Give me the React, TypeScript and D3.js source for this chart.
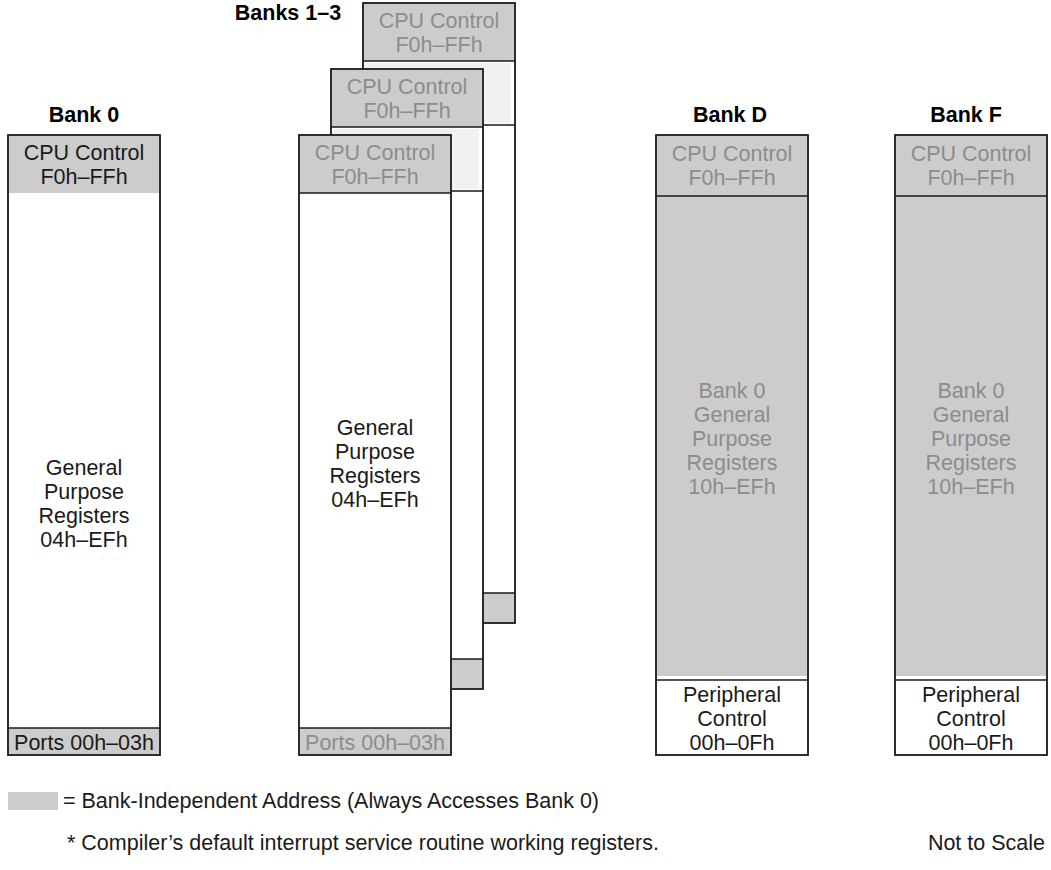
import React from "react";
import * as d3 from "d3";

// ---- data ----
const bankTitles = ["Bank 0", "Banks 1–3", "Bank D", "Bank F"];
const cpuLines = ["CPU Control", "F0h–FFh"];
const gprLines0 = ["General", "Purpose", "Registers", "04h–EFh"];
const gprLinesDF = ["Bank 0", "General", "Purpose", "Registers", "10h–EFh"];
const portsLabel = "Ports 00h–03h";
const periphLines = ["Peripheral", "Control", "00h–0Fh"];
const legendText = "= Bank-Independent Address (Always Accesses Bank 0)";
const footnoteText = "* Compiler’s default interrupt service routine working registers.";
const scaleNote = "Not to Scale";
const stackLayers = [2, 1, 0]; // banks 1–3 drawn back to front

// ---- style ----
const FONT = "'Liberation Sans', Arial, Helvetica, sans-serif";
const GRAY = "#cccccc";
const LIGHT = "#f1f1f1";
const DIM = "#8c8c8c";
const INK = "#1a1a1a";
const FS = 21.5;
const LH = 24;
const SW = 1.4;

const W = 152;
const TOP = 135;
const BOT = 755;
const HEADER = 58;
const PORTS = 27;
const PERIPH = 75;

// horizontal placement scale of the four columns
const colX = d3.scaleOrdinal<string, number>().domain(bankTitles).range([8, 299, 656, 895]);
const stackOffset = d3.scaleLinear().domain([0, 1]).range([0, 32]);
const stackLift = d3.scaleLinear().domain([0, 1]).range([0, -66]);

function Lines({ x, cy, lines, fill }: { x: number; cy: number; lines: string[]; fill: string }) {
  const n = lines.length;
  const first = cy - ((n - 1) * LH) / 2 + FS * 0.36;
  return (
    <text x={x} textAnchor="middle" fontFamily={FONT} fontSize={FS} fill={fill}>
      {lines.map((l, i) => (
        <tspan key={i} x={x} y={first + i * LH}>
          {l}
        </tspan>
      ))}
    </text>
  );
}

function Box({ x, y0, y1, fill, stroke = INK }: { x: number; y0: number; y1: number; fill: string; stroke?: string }) {
  return <rect x={x} y={y0} width={W} height={y1 - y0} fill={fill} stroke={stroke} strokeWidth={SW} />;
}

function HLine({ x, y }: { x: number; y: number }) {
  return <line x1={x} x2={x + W} y1={y} y2={y} stroke={INK} strokeWidth={SW} />;
}

function Bank0() {
  const x = colX("Bank 0");
  const cx = x + W / 2;
  const hb = TOP + HEADER;
  const pt = BOT - PORTS;
  return (
    <g>
      <Box x={x} y0={TOP} y1={BOT} fill="#fff" />
      <rect x={x + 1} y={TOP + 1} width={W - 2} height={HEADER - 1} fill={GRAY} />
      <rect x={x + 1} y={pt} width={W - 2} height={PORTS - 1} fill={GRAY} />
      <HLine x={x} y={pt} />
      <Lines x={cx} cy={TOP + HEADER / 2} lines={cpuLines} fill={INK} />
      <Lines x={cx} cy={(hb + pt) / 2 + 43} lines={gprLines0} fill={INK} />
      <Lines x={cx} cy={pt + PORTS / 2 + 1} lines={[portsLabel]} fill={INK} />
      <Box x={x} y0={TOP} y1={BOT} fill="none" />
    </g>
  );
}

function StackPanel({ layer }: { layer: number }) {
  const x = colX("Banks 1–3") + stackOffset(layer);
  const top = TOP + stackLift(layer);
  const bot = BOT + stackLift(layer);
  const cx = x + W / 2;
  const hb = top + HEADER;
  const front = layer === 0;
  const portsH = front ? PORTS : 30;
  const pt = bot - portsH;
  return (
    <g>
      <Box x={x} y0={top} y1={bot} fill="#fff" />
      <rect x={x + 1} y={top + 1} width={W - 2} height={HEADER - 1} fill={GRAY} />
      {!front && (
        <>
          <rect x={x + 2} y={hb + 2} width={W - 6} height={60} fill={LIGHT} />
          <HLine x={x} y={hb + 64} />
        </>
      )}
      <rect x={x + 1} y={pt} width={W - 2} height={portsH - 1} fill={GRAY} />
      <HLine x={x} y={hb} />
      <HLine x={x} y={pt} />
      <Lines x={cx} cy={top + HEADER / 2} lines={cpuLines} fill={DIM} />
      {front && <Lines x={cx} cy={(hb + pt) / 2 + 3} lines={gprLines0} fill={INK} />}
      {front && <Lines x={cx} cy={pt + PORTS / 2 + 1} lines={[portsLabel]} fill={DIM} />}
      <Box x={x} y0={top} y1={bot} fill="none" />
    </g>
  );
}

function BankDF({ title }: { title: string }) {
  const x = colX(title);
  const cx = x + W / 2;
  const hb = TOP + HEADER + 3;
  const pt = BOT - PERIPH;
  return (
    <g>
      <Box x={x} y0={TOP} y1={BOT} fill="#fff" />
      <rect x={x + 1} y={TOP + 1} width={W - 2} height={pt - TOP - 5} fill={GRAY} />
      <HLine x={x} y={hb} />
      <HLine x={x} y={pt} />
      <Lines x={cx} cy={TOP + (hb - TOP) / 2} lines={cpuLines} fill={DIM} />
      <Lines x={cx} cy={(hb + pt) / 2} lines={gprLinesDF} fill={DIM} />
      <Lines x={cx} cy={pt + PERIPH / 2 + 1} lines={periphLines} fill={INK} />
      <Box x={x} y0={TOP} y1={BOT} fill="none" />
    </g>
  );
}

export default function App() {
  return (
    <svg
      width={1051}
      height={870}
      viewBox="0 0 1051 870"
      style={{ position: "absolute", left: 0, top: 0, background: "#fff" }}
    >
      <rect x={0} y={0} width={1051} height={870} fill="#fff" />
      {/* titles */}
      <text x={84} y={122} textAnchor="middle" fontFamily={FONT} fontWeight="bold" fontSize={FS} fill="#000">
        {bankTitles[0]}
      </text>
      <text x={288} y={20} textAnchor="middle" fontFamily={FONT} fontWeight="bold" fontSize={FS} fill="#000">
        {bankTitles[1]}
      </text>
      <text x={730} y={122} textAnchor="middle" fontFamily={FONT} fontWeight="bold" fontSize={FS} fill="#000">
        {bankTitles[2]}
      </text>
      <text x={966} y={122} textAnchor="middle" fontFamily={FONT} fontWeight="bold" fontSize={FS} fill="#000">
        {bankTitles[3]}
      </text>

      <Bank0 />
      {stackLayers.map((l) => (
        <StackPanel key={l} layer={l} />
      ))}
      <BankDF title={bankTitles[2]} />
      <BankDF title={bankTitles[3]} />

      {/* legend */}
      <rect x={8} y={792} width={50} height={18} fill={GRAY} />
      <text x={63} y={808} fontFamily={FONT} fontSize={FS} fill={INK}>
        {legendText}
      </text>
      <text x={67} y={850} fontFamily={FONT} fontSize={FS} fill={INK}>
        {footnoteText}
      </text>
      <text x={1045} y={850} textAnchor="end" fontFamily={FONT} fontSize={FS} fill={INK}>
        {scaleNote}
      </text>
    </svg>
  );
}
